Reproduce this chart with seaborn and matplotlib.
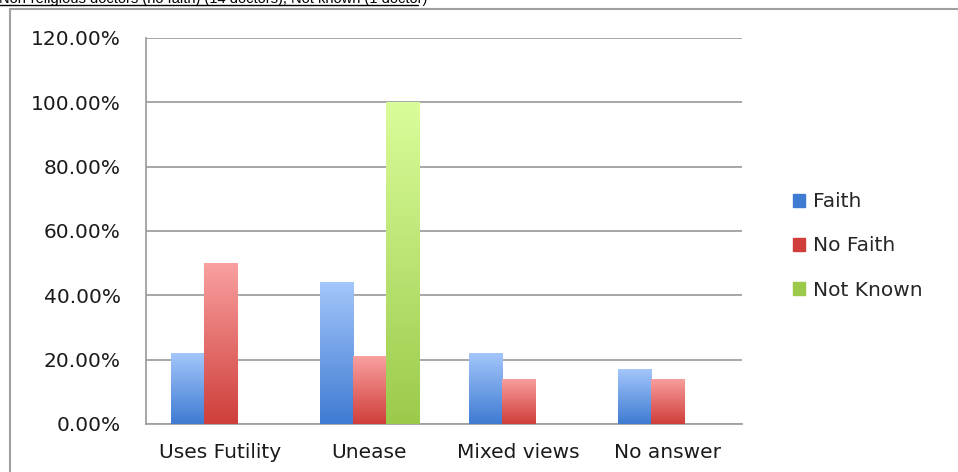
import numpy as np
import pandas as pd
import seaborn as sns
import matplotlib.pyplot as plt
from matplotlib.lines import Line2D
from matplotlib.colors import LinearSegmentedColormap

categories = ["Uses Futility", "Unease", "Mixed views", "No answer"]
series = ["Faith", "No Faith", "Not Known"]
faith = [22, 44, 22, 17]
no_faith = [50, 21, 14, 14]
not_known = [0, 100, 0, 0]
yticks = [0, 20, 40, 60, 80, 100, 120]
title = "Non-religious doctors (no faith) (14 doctors), Not known (1 doctor)"

# top / bottom gradient colours per series
grad = {"Faith": ("#a3c6fb", "#3f7bd2"),
        "No Faith": ("#f9a0a0", "#cf3e3a"),
        "Not Known": ("#dafd9a", "#9bca4b")}

df = pd.DataFrame({
    "cat": categories * 3,
    "series": sum([[s] * 4 for s in series], []),
    "value": faith + no_faith + not_known,
})

sns.set_style("white")
plt.rcParams['font.family'] = ['DejaVu Sans']

fig = plt.figure(figsize=(9.58, 4.72), dpi=100)
ax = fig.add_axes([0.1524, 0.1017, 0.6221, 0.8178])

mid = {k: v[1] for k, v in grad.items()}
sns.barplot(data=df, x="cat", y="value", hue="series", hue_order=series,
            palette=mid, width=0.667, ax=ax, legend=False, zorder=3,
            linewidth=0)

# paint a vertical gradient inside each bar
for i, p in enumerate(ax.patches):
    s = series[i // len(categories)]
    x0, y0 = p.get_x(), p.get_y()
    w, h = p.get_width(), p.get_height()
    if h <= 0:
        continue
    cmap = LinearSegmentedColormap.from_list("g", [grad[s][1], grad[s][0]])
    img = ax.imshow(np.linspace(0, 1, 256).reshape(-1, 1), cmap=cmap,
                    extent=[x0, x0 + w, y0, y0 + h], origin="lower",
                    aspect="auto", zorder=4)
    img.set_clip_path(p)

ax.set_xlim(-0.5, 3.5)
ax.set_ylim(0, 120)
ax.set_aspect("auto")
ax.set_yticks(yticks)
ax.set_yticklabels([f"{v:.2f}%" for v in yticks])
ax.set_xlabel("")
ax.set_ylabel("")

gcol = "#a0a0a0"
ax.yaxis.grid(True, color=gcol, linewidth=1.3, zorder=0)
ax.set_axisbelow(True)
sns.despine(ax=ax, top=True, right=True)
for sp in ["left", "bottom"]:
    ax.spines[sp].set_color(gcol)
    ax.spines[sp].set_linewidth(1.3)

ax.set_xticks(np.arange(-0.5, 4.0, 1.0), minor=True)
ax.tick_params(axis="x", which="major", length=0, pad=14,
               labelsize=14.5, labelcolor="#1a1a1a")
ax.tick_params(axis="x", which="minor", length=7, width=1.3, color=gcol,
               direction="out")
ax.tick_params(axis="y", length=7, width=1.3, color=gcol, pad=11,
               labelsize=14.5, labelcolor="#1a1a1a")

handles = [plt.Rectangle((0, 0), 1, 1, color=grad[s][1]) for s in series]
fig.legend(handles, series, loc="center left", bbox_to_anchor=(0.8084, 0.479),
           frameon=False, fontsize=14.5, handlelength=0.6, handleheight=0.6,
           handletextpad=0.4, labelspacing=1.25)

# heading (cut at the top edge as in the source) and outer frame
fig.text(-0.001, 1 - 3 / 472, title, fontsize=10.5, family="Liberation Sans",
         va="baseline", ha="left", color="black")
fig.add_artist(Line2D([0, 418 / 958], [1 - 5 / 472] * 2, color="black", lw=1))
fig.add_artist(Line2D([10 / 958, 10 / 958], [0, 1 - 9 / 472], color=gcol, lw=1.5))
fig.add_artist(Line2D([10 / 958, 1], [1 - 9 / 472] * 2, color=gcol, lw=1.5))

fig.savefig("out.png", dpi=100)
